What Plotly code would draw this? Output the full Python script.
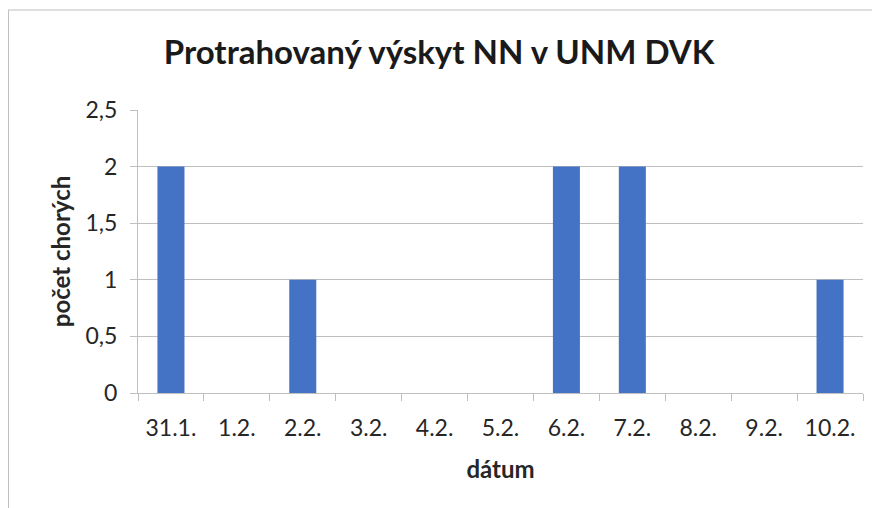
import plotly.graph_objects as go

categories = ["31.1.", "1.2.", "2.2.", "3.2.", "4.2.", "5.2.", "6.2.", "7.2.", "8.2.", "9.2.", "10.2."]
values = [2, 0, 1, 0, 0, 0, 2, 2, 0, 0, 1]
y_ticks = [0, 0.5, 1, 1.5, 2, 2.5]
y_tick_labels = ["0", "0,5", "1", "1,5", "2", "2,5"]

# page body has an 8px margin, so the figure is laid out in page coords minus 8
OFF = 8
W, H = 880 - OFF, 508 - OFF
L, R, T, B = 138 - OFF, 17, 110 - OFF, 115
pw, ph = W - L - R, H - T - B

def px2x(px):
    return (px - OFF - L) / pw

def py2y(py):
    return (H - B - (py - OFF)) / ph

font = "Lato, Open Sans, sans-serif"
txt = "#262626"

fig = go.Figure(go.Bar(x=categories, y=values, marker=dict(color="#4472C4", line=dict(width=0)), width=0.41))

fig.update_layout(
    width=W, height=H,
    margin=dict(l=L, r=R, t=T, b=B),
    paper_bgcolor="white", plot_bgcolor="white",
    font=dict(family=font, color=txt),
    title=dict(text="<b>Protrahovaný výskyt NN v UNM DVK</b>", x=(439 - OFF) / W, xanchor="center",
               y=1 - (52 - OFF) / H, yanchor="middle", font=dict(size=33, color="#1a1a1a")),
    showlegend=False,
    bargap=0.59,
    xaxis=dict(
        type="category", showgrid=False, showline=True, linecolor="#BFBFBF", linewidth=1,
        ticks="outside", tickson="boundaries", ticklen=7, tickcolor="#BFBFBF",
        tickfont=dict(size=23, color=txt), ticklabelstandoff=14,
        title=dict(text="<b>dátum</b>", font=dict(size=24, color=txt), standoff=21),
    ),
    yaxis=dict(
        range=[0, 2.5], tickvals=y_ticks, ticktext=y_tick_labels,
        showgrid=True, gridcolor="#BFBFBF", gridwidth=1,
        showline=True, linecolor="#BFBFBF", linewidth=1,
        ticks="outside", ticklen=7, tickcolor="#BFBFBF",
        tickfont=dict(size=23, color=txt), zeroline=False, ticklabelstandoff=8,
        title=dict(text="<b>počet chorých</b>", font=dict(size=24, color=txt), standoff=8),
    ),
    shapes=[
        dict(type="line", xref="paper", yref="paper", x0=px2x(8), x1=px2x(880), y0=py2y(10), y1=py2y(10),
             line=dict(color="#BFBFBF", width=1)),
        dict(type="line", xref="paper", yref="paper", x0=px2x(8.5), x1=px2x(8.5), y0=py2y(10), y1=py2y(508),
             line=dict(color="#BFBFBF", width=1)),
    ],
)

fig.write_html("out.html")
